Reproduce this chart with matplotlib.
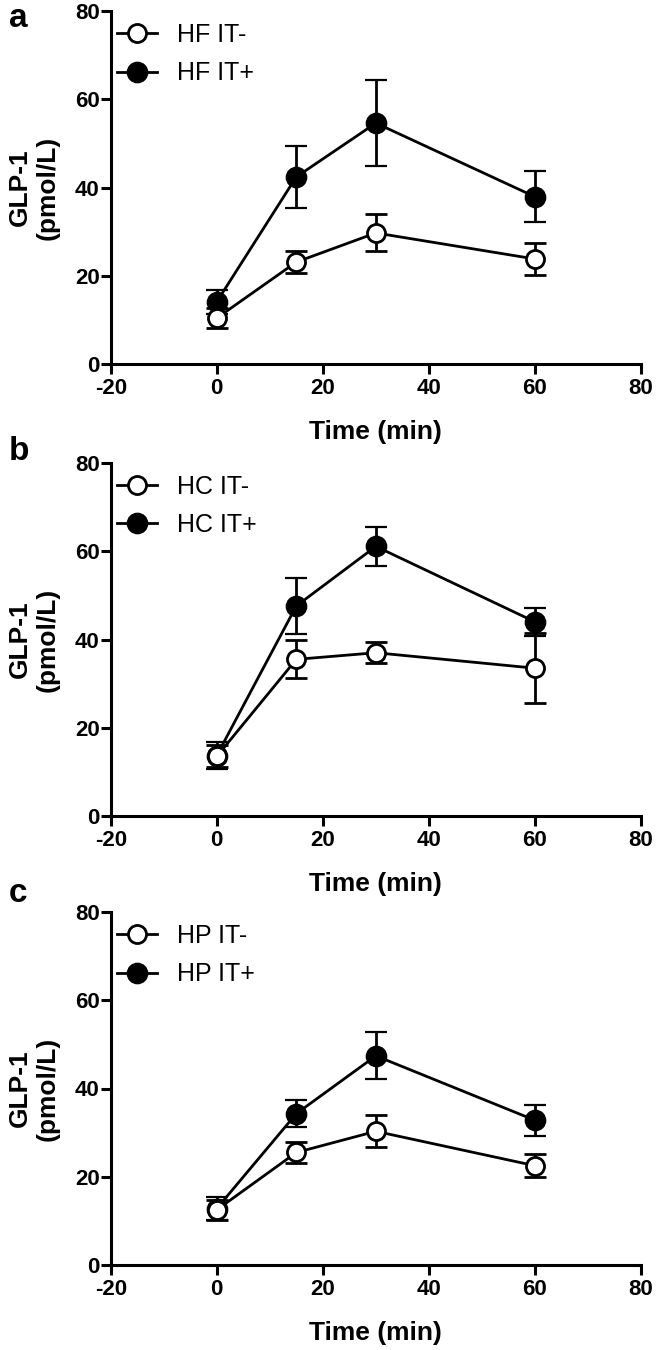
import matplotlib
matplotlib.use("Agg")
import matplotlib.pyplot as plt
from matplotlib.lines import Line2D

time_min = [0, 15, 30, 60]

panel_letters = ["a", "b", "c"]
labels_neg = ["HF IT-", "HC IT-", "HP IT-"]
labels_pos = ["HF IT+", "HC IT+", "HP IT+"]

hf_neg = [10.4, 23.1, 29.7, 23.8]
hf_neg_err = [2.2, 2.4, 4.2, 3.7]
hf_pos = [14.1, 42.4, 54.6, 37.9]
hf_pos_err = [2.7, 7.0, 9.8, 5.8]

hc_neg = [13.5, 35.5, 37.0, 33.5]
hc_neg_err = [2.5, 4.3, 2.4, 8.0]
hc_pos = [13.7, 47.6, 61.1, 44.0]
hc_pos_err = [3.0, 6.4, 4.5, 3.2]

hp_neg = [12.5, 25.5, 30.3, 22.5]
hp_neg_err = [2.3, 2.3, 3.6, 2.6]
hp_pos = [12.8, 34.3, 47.4, 32.8]
hp_pos_err = [2.5, 3.1, 5.3, 3.5]

x_ticks = [-20, 0, 20, 40, 60, 80]
y_ticks = [0, 20, 40, 60, 80]

FONT = "Liberation Sans"

W, H = 657, 1350
fig = plt.figure(figsize=(W / 100, H / 100), dpi=100)

panels = [
    (hf_neg, hf_neg_err, hf_pos, hf_pos_err, 11, 364, 27),
    (hc_neg, hc_neg_err, hc_pos, hc_pos_err, 463, 816, 460),
    (hp_neg, hp_neg_err, hp_pos, hp_pos_err, 912, 1265, 902),
]
left_px, right_px = 110.7, 641

for i, (neg, negerr, pos, poserr, top_px, bot_px, letter_base) in enumerate(panels):
    ax_h = bot_px - top_px
    ax_w = right_px - left_px
    ax = fig.add_axes([left_px / W, 1 - bot_px / H, ax_w / W, ax_h / H])
    lw = 2.0
    ax.errorbar(time_min, pos, yerr=poserr, color="black", lw=lw, marker="o", ms=14,
                mfc="black", mec="black", mew=1.6, capsize=8, capthick=lw, elinewidth=lw,
                zorder=3, clip_on=False)
    ax.errorbar(time_min, neg, yerr=negerr, color="black", lw=lw, marker="o", ms=13,
                mfc="white", mec="black", mew=2.0, capsize=8, capthick=lw, elinewidth=lw,
                zorder=4, clip_on=False)
    ax.set_xlim(-20, 80)
    ax.set_ylim(0, 80)
    ax.set_xticks(x_ticks)
    ax.set_yticks(y_ticks)
    ax.set_xticklabels([str(t) for t in x_ticks], fontfamily=FONT, fontweight="bold", fontsize=16)
    ax.set_yticklabels([str(t) for t in y_ticks], fontfamily=FONT, fontweight="bold", fontsize=16)
    for s in ["top", "right"]:
        ax.spines[s].set_visible(False)
    for s in ["left", "bottom"]:
        ax.spines[s].set_linewidth(2.2)
        ax.spines[s].set_zorder(5)
    ax.tick_params(axis="x", length=7, width=2.2, pad=3)
    ax.tick_params(axis="y", length=7, width=2.2, pad=1)

    ax.set_xlabel("Time (min)", fontfamily=FONT, fontweight="bold", fontsize=19)
    ax.xaxis.label.set_va("center")
    ax.xaxis.set_label_coords(0.5, -68 / ax_h)

    ax.set_ylabel("GLP-1\n(pmol/L)", fontfamily=FONT, fontweight="bold", fontsize=19,
                  linespacing=1.2)
    ax.yaxis.label.set_va("center")
    ax.yaxis.set_label_coords((33.5 - left_px) / ax_w, 0.5)

    h_neg = Line2D([], [], color="black", lw=lw, marker="o", ms=13, mfc="white",
                   mec="black", mew=2.0)
    h_pos = Line2D([], [], color="black", lw=lw, marker="o", ms=14, mfc="black",
                   mec="black", mew=1.6)
    ax.legend([h_neg, h_pos], [labels_neg[i], labels_pos[i]], loc="upper left",
              bbox_to_anchor=(6 / ax_w, 1 - 12 / ax_h), frameon=False,
              prop={"family": FONT, "size": 18},
              handlelength=1.6, handletextpad=0.8, labelspacing=0.57,
              borderaxespad=0, borderpad=0)
    fig.text(9 / W, 1 - letter_base / H, panel_letters[i], fontfamily=FONT,
             fontweight="bold", fontsize=24, va="baseline", ha="left")

fig.savefig("out.png", dpi=100)
